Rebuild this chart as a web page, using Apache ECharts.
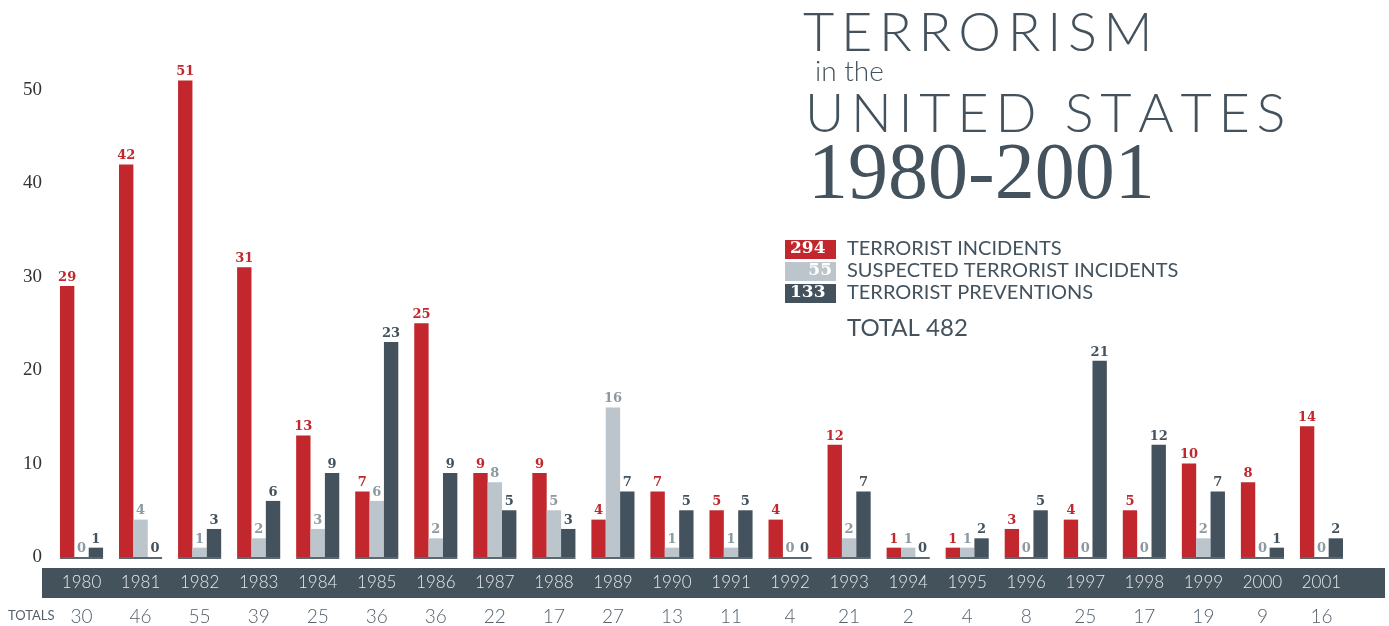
<!DOCTYPE html>
<html>
<head>
<meta charset="utf-8">
<script src="https://cdn.jsdelivr.net/npm/echarts@6/dist/echarts.min.js"></script>
<style>html,body{margin:0;padding:0;background:#fff}#c{width:1389px;height:626px}</style>
</head>
<body>
<div id="c"></div>
<script>
const years = ['1980','1981','1982','1983','1984','1985','1986','1987','1988','1989','1990','1991','1992','1993','1994','1995','1996','1997','1998','1999','2000','2001'];
const incidents = [29,42,51,31,13,7,25,9,9,4,7,5,4,12,1,1,3,4,5,10,8,14];
const suspected = [0,4,1,2,3,6,2,8,5,16,1,1,0,2,1,1,0,0,0,2,0,0];
const preventions = [1,0,3,6,9,23,9,5,3,7,5,5,0,7,0,2,5,21,12,7,1,2];
const totals = [30,46,55,39,25,36,36,22,17,27,13,11,4,21,2,4,8,25,17,19,9,16];
const yTicks = [0,10,20,30,40,50];

const RED = '#c1272d', LGRAY = '#bcc5cb', DARK = '#43525c', INK = '#43525c';
const sum = a => a.reduce((s, v) => s + v, 0);
const sInc = sum(incidents), sSus = sum(suspected), sPrev = sum(preventions);

const chart = echarts.init(document.getElementById('c'), null, {renderer: 'canvas'});
const sp = t => t.split('').join('\u2009');
const labelFont = {fontFamily: 'DejaVu Serif', fontWeight: 'bold', fontSize: 13};

chart.setOption({
  backgroundColor: '#fff',
  animation: false,
  grid: {left: 52, right: 38, top: 43, bottom: 69},
  xAxis: [{
    type: 'category', data: years, z: 10,
    axisLine: {show: false}, axisTick: {show: false},
    axisLabel: {color: '#e6eaec', fontFamily: 'Lato', fontWeight: 300, fontSize: 17, margin: 17}
  }, {
    type: 'category', data: years, position: 'bottom', z: 10,
    axisLine: {show: false}, axisTick: {show: false},
    axisLabel: {color: '#55606a', fontFamily: 'Lato', fontWeight: 300, fontSize: 19, margin: 50,
      formatter: (v, i) => String(totals[i])}
  }],
  yAxis: {
    type: 'value', min: 0, max: 55, interval: 10,
    splitLine: {show: false}, axisLine: {show: false}, axisTick: {show: false},
    axisLabel: {color: '#333', fontFamily: 'Liberation Serif', fontSize: 19, margin: 10,
      formatter: v => yTicks.includes(v) ? String(v) : ''}
  },
  series: [
    {type: 'bar', name: 'Terrorist incidents', data: incidents, barGap: '0%', barCategoryGap: '27%',
     itemStyle: {color: RED},
     label: {show: true, position: 'top', distance: 2, color: RED, ...labelFont}},
    {type: 'bar', name: 'Suspected', data: suspected,
     itemStyle: {color: LGRAY},
     label: {show: true, position: 'top', distance: 2, color: '#8c99a1', ...labelFont}},
    {type: 'bar', name: 'Preventions', data: preventions,
     itemStyle: {color: DARK},
     label: {show: true, position: 'top', distance: 2, color: DARK, ...labelFont}},
    {type: 'custom', silent: true, z: 5,
     data: years.map((y, i) => [i, 0]),
     renderItem: (params, api) => {
       const c = api.coord([api.value(0), 0]);
       const w = api.size([1, 0])[0] * 0.73;
       return {type: 'line', shape: {x1: c[0] - w / 2, y1: c[1] + 1, x2: c[0] + w / 2, y2: c[1] + 1},
               style: {stroke: '#5b6870', lineWidth: 2}};
     }}
  ],
  graphic: [
    {type: 'rect', z: 1, shape: {x: 42, y: 568, width: 1343, height: 30}, style: {fill: '#44525b'}},
    {type: 'text', z: 1, left: 8, top: 609, style: {text: 'TOTALS', fontFamily: 'Lato', fontSize: 13, fill: '#55606a'}},
    {type: 'text', z: 1, left: 803, top: 7, style: {text: sp('TERRORISM'), fontFamily: 'Lato', fontWeight: 300, fontSize: 54, fill: INK}},
    {type: 'text', z: 1, left: 815, top: 58, style: {text: 'in the', fontFamily: 'Lato', fontWeight: 300, fontSize: 28, fill: INK}},
    {type: 'text', z: 1, left: 805, top: 88, style: {text: sp('UNITED STATES'), fontFamily: 'Lato', fontWeight: 300, fontSize: 54, fill: INK}},
    {type: 'text', z: 1, left: 808, top: 137, style: {text: '1980-2001', fontFamily: 'Liberation Serif', fontSize: 80, fill: INK}},
    {type: 'rect', z: 1, shape: {x: 785, y: 240, width: 51, height: 19}, style: {fill: RED}},
    {type: 'rect', z: 1, shape: {x: 785, y: 262, width: 51, height: 19}, style: {fill: LGRAY}},
    {type: 'rect', z: 1, shape: {x: 785, y: 284, width: 51, height: 19}, style: {fill: DARK}},
    {type: 'text', z: 2, left: 790, top: 240, style: {text: String(sInc), fontFamily: 'DejaVu Serif', fontWeight: 'bold', fontSize: 17, fill: '#fff'}},
    {type: 'text', z: 2, right: 1389 - 832, top: 262, style: {text: String(sSus), fontFamily: 'DejaVu Serif', fontWeight: 'bold', fontSize: 17, fill: '#fff'}},
    {type: 'text', z: 2, left: 790, top: 284, style: {text: String(sPrev), fontFamily: 'DejaVu Serif', fontWeight: 'bold', fontSize: 17, fill: '#fff'}},
    {type: 'text', z: 1, left: 847, top: 239, style: {text: 'TERRORIST INCIDENTS', fontFamily: 'Lato', fontSize: 20, fill: INK}},
    {type: 'text', z: 1, left: 847, top: 261, style: {text: 'SUSPECTED TERRORIST INCIDENTS', fontFamily: 'Lato', fontSize: 20, fill: INK}},
    {type: 'text', z: 1, left: 847, top: 283, style: {text: 'TERRORIST PREVENTIONS', fontFamily: 'Lato', fontSize: 20, fill: INK}},
    {type: 'text', z: 1, left: 847, top: 316, style: {text: 'TOTAL ' + (sInc + sSus + sPrev), fontFamily: 'Lato', fontSize: 24, fill: INK}}
  ]
});
</script>
</body>
</html>
